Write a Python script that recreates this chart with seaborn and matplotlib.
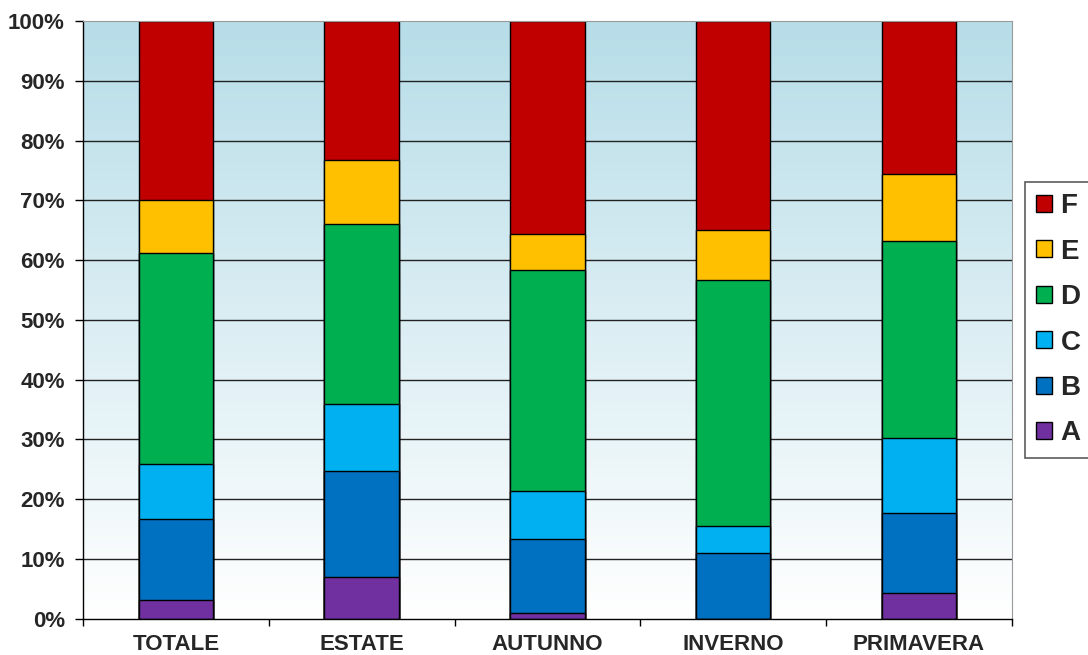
import matplotlib
matplotlib.use("Agg")
import matplotlib.pyplot as plt
import seaborn as sns
import numpy as np
import pandas as pd
from matplotlib.colors import LinearSegmentedColormap

# data (percent of each season)
categories = ['TOTALE', 'ESTATE', 'AUTUNNO', 'INVERNO', 'PRIMAVERA']
series = ['A', 'B', 'C', 'D', 'E', 'F']
A = [3.1, 7.0, 1.0, 0.0, 4.3]
B = [13.5, 17.7, 12.3, 11.0, 13.4]
C = [9.2, 11.3, 8.1, 4.5, 12.6]
D = [35.3, 30.0, 37.0, 41.1, 32.9]
E = [9.0, 10.8, 6.0, 8.5, 11.2]
F = [29.9, 23.2, 35.6, 34.9, 25.6]
colors = ['#7030A0', '#0070C0', '#00B0F0', '#00B050', '#FFC000', '#C00000']

sns.set_style('white')
plt.rcParams['font.family'] = ['Liberation Sans', 'DejaVu Sans']
plt.rcParams['font.weight'] = 'bold'

df = pd.DataFrame({'A': A, 'B': B, 'C': C, 'D': D, 'E': E, 'F': F}, index=categories)
cum = df.cumsum(axis=1)

fig = plt.figure(figsize=(10.88, 6.55), dpi=100)
ax = fig.add_axes([0.0763, 0.0554, 0.8536, 0.9126])

# gradient background
cmap = LinearSegmentedColormap.from_list('bg', ['#FFFFFF', '#B7DDE8'])
grad = np.linspace(0, 1, 256).reshape(-1, 1)
ax.imshow(grad, extent=(-0.5, 4.5, 0, 100), origin='lower', aspect='auto',
          cmap=cmap, zorder=0)

for v in range(10, 100, 10):
    ax.axhline(v, color='#222222', lw=1.0, zorder=1)

# stack by overdrawing cumulative heights from the top layer down
handles = []
for s, c in reversed(list(zip(series, colors))):
    d = pd.DataFrame({'cat': categories, 'val': cum[s].values})
    sns.barplot(data=d, x='cat', y='val', color=c, width=0.4,
                edgecolor='black', linewidth=1.0, saturation=1, ax=ax, zorder=2)
    handles.append(plt.Rectangle((0, 0), 1, 1, facecolor=c, edgecolor='black', lw=1.0))

ax.set_xlim(-0.5, 4.5)
ax.set_ylim(0, 100)
ax.set_xlabel('')
ax.set_ylabel('')
ax.set_yticks(range(0, 101, 10))
ax.set_yticklabels([f'{v}%' for v in range(0, 101, 10)], fontsize=16, fontweight='bold')
ax.set_xticks(range(5))
ax.set_xticklabels(categories, fontsize=16, fontweight='bold')
ax.set_xticks(np.arange(-0.5, 5, 1), minor=True)
ax.tick_params(axis='x', which='major', length=0, pad=11)
ax.tick_params(axis='x', which='minor', length=5, width=1, color='black', bottom=True)
ax.tick_params(axis='y', length=6, width=1, color='black', left=True, pad=7)

for side in ['top', 'right']:
    ax.spines[side].set_color('#9a9a9a')
for side in ['left', 'bottom']:
    ax.spines[side].set_color('black')
    ax.spines[side].set_linewidth(1.0)

leg = fig.legend(handles, list(reversed(series)), loc='upper left',
                 bbox_to_anchor=(0.942, 0.722),
                 frameon=True, fancybox=False, edgecolor='#333333',
                 prop={'size': 20, 'weight': 'bold'}, handlelength=0.58,
                 handleheight=0.58, handletextpad=0.3, labelspacing=0.70,
                 borderpad=0.4, borderaxespad=0)
leg.get_frame().set_linewidth(1.2)

fig.savefig('out.png', dpi=100)
